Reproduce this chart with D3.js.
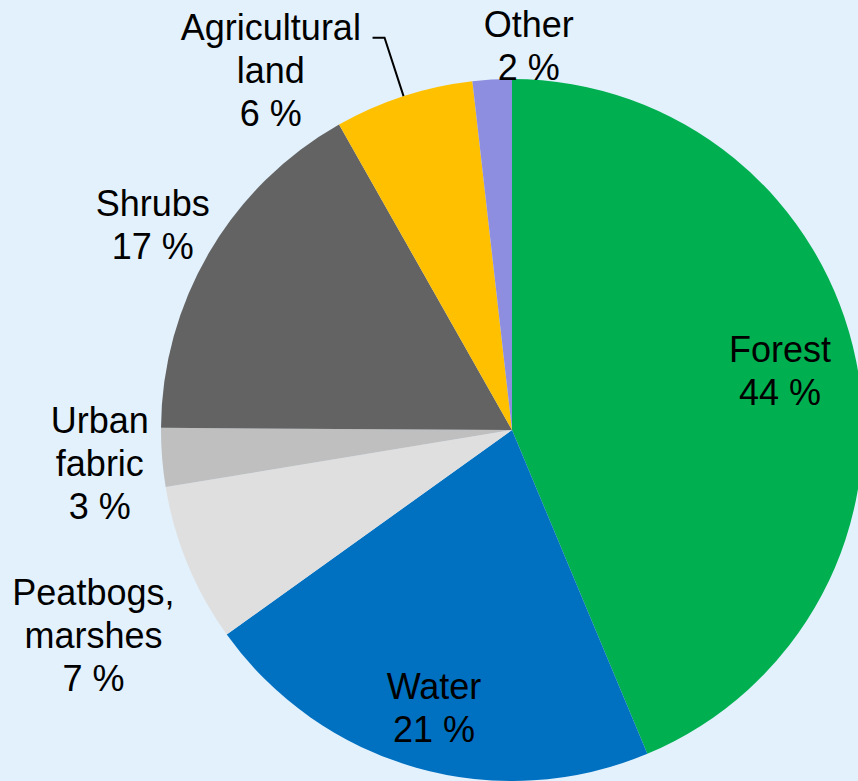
<!DOCTYPE html>
<html>
<head>
<meta charset="utf-8">
<script src="https://cdn.jsdelivr.net/npm/d3@7"></script>
<style>
  html, body { margin: 0; padding: 0; background: #e2f1fc; overflow: hidden; }
  svg { display: block; }
</style>
</head>
<body>
<svg class="chart" width="858" height="781"></svg>
<script>
// Land cover shares (clockwise from 12 o'clock)
var categories = ["Forest", "Water", "Peatbogs, marshes", "Urban fabric", "Shrubs", "Agricultural land", "Other"];
var shares     = [43.7, 21.4, 7.3, 2.7, 16.7, 6.4, 1.8];
var labelLines = [["Forest", "44 %"], ["Water", "21 %"], ["Peatbogs,", "marshes", "7 %"],
                  ["Urban", "fabric", "3 %"], ["Shrubs", "17 %"], ["Agricultural", "land", "6 %"], ["Other", "2 %"]];
var colours    = ["#00b050", "#0070c0", "#dfdfdf", "#bfbfbf", "#636363", "#ffc000", "#8e8ee0"];

// where each label block sits: angle (deg, clockwise from top) and distance in radii
var labelAngle  = [77.5, 195.7, 243.9, 265.4, 299.7, 326.2, 2.5];
var labelRadius = [0.782, 0.821, 1.328, 1.178, 1.178, 1.235, 1.097];

var svg = d3.select(".chart"),
    cx = 512, cy = 430, radius = 351,
    lineHeight = 43, capHalf = 12.8;

var data = categories.map(function(c, i) {
  return {name: c, value: shares[i], colour: colours[i], lines: labelLines[i],
          la: labelAngle[i], lr: labelRadius[i]};
});

var pie = d3.pie().sort(null).value(function(d) { return d.value; });
var arc = d3.arc().innerRadius(0).outerRadius(radius);
var arcs = pie(data);

var g = svg.append("g").attr("transform", "translate(" + cx + "," + cy + ")");

g.selectAll(".slice")
  .data(arcs)
  .enter().append("path")
  .attr("class", "slice")
  .attr("d", arc)
  .attr("fill", function(d) { return d.data.colour; });

// leader line for the agricultural slice
var agri = arcs[5];
var mid = (agri.startAngle + agri.endAngle) / 2;
var p0 = [radius * Math.sin(mid), -radius * Math.cos(mid)];
var p1 = [radius * 1.175 * Math.sin(mid), -radius * 1.175 * Math.cos(mid)];
g.append("path")
  .attr("d", d3.line()([p0, p1, [p1[0] - 12, p1[1]]]))
  .attr("fill", "none")
  .attr("stroke", "#000")
  .attr("stroke-width", 2);

// labels
var labels = g.selectAll(".label")
  .data(arcs)
  .enter().append("text")
  .attr("class", "label")
  .attr("text-anchor", "middle")
  .style("font-family", "'Liberation Sans', Arial, sans-serif")
  .style("font-size", "36px")
  .attr("fill", "#000")
  .attr("transform", function(d) {
    var a = d.data.la * Math.PI / 180, r = d.data.lr * radius;
    return "translate(" + (r * Math.sin(a)) + "," + (-r * Math.cos(a)) + ")";
  });

labels.each(function(d) {
  var n = d.data.lines.length;
  d3.select(this).selectAll("tspan")
    .data(d.data.lines)
    .enter().append("tspan")
    .attr("x", 0)
    .attr("y", function(t, i) { return (i - (n - 1) / 2) * lineHeight + capHalf; })
    .text(function(t) { return t; });
});
</script>
</body>
</html>
